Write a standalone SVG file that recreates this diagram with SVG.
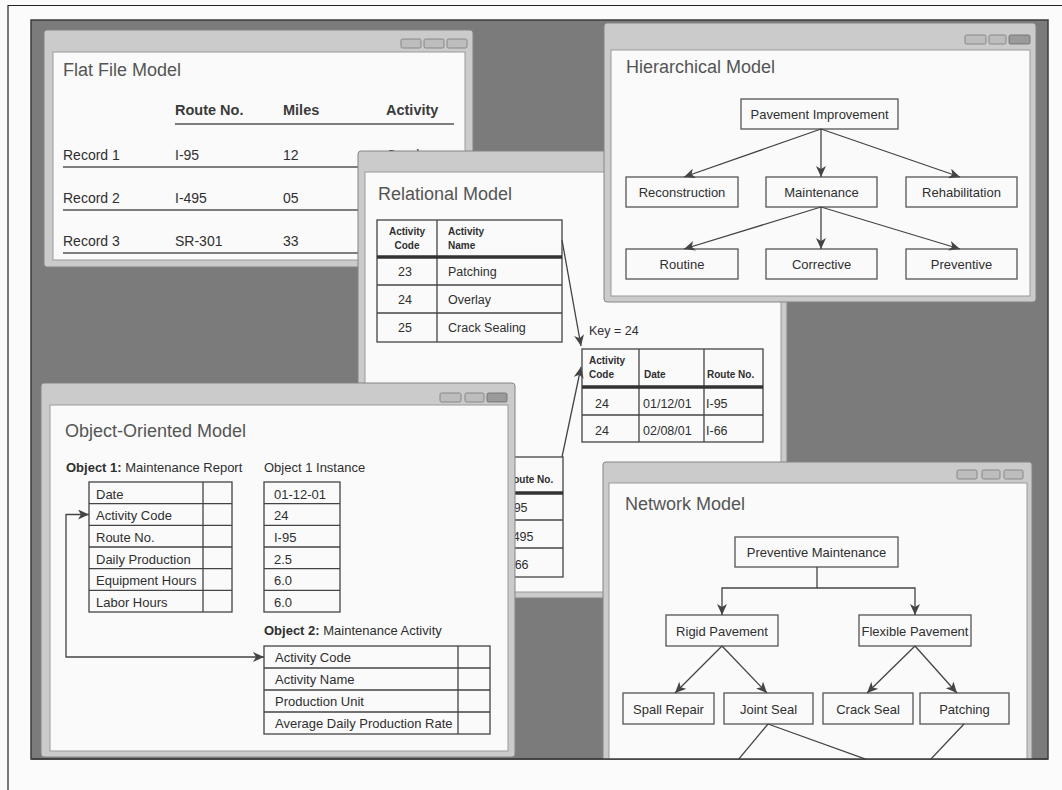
<svg xmlns="http://www.w3.org/2000/svg" width="1062" height="790" viewBox="0 0 1062 790">
<style>
text{font-family:"Liberation Sans",Arial,sans-serif;fill:#2f2f2f}
.ti{font-size:18px;fill:#555}
.b{font-size:14px}
.bh{font-size:14.5px;font-weight:bold;fill:#3a3a3a}
.n{font-size:13px;text-anchor:middle}
.r{font-size:12.5px}
.rh{font-size:10px;font-weight:bold}
.o{font-size:13px}
.frame{fill:#cbcbcb;stroke:#858585;stroke-width:1}
.inner{fill:#fafafa;stroke:#9a9a9a;stroke-width:1}
.btn{fill:#bdbdbd;stroke:#7a7a7a;stroke-width:0.8}
.btnx{fill:#9a9a9a;stroke:#6a6a6a;stroke-width:0.8}
.box{fill:#fafafa;stroke:#555;stroke-width:1.3}
.tb{fill:none;stroke:#444;stroke-width:1.3}
.thick{stroke:#333;stroke-width:3.5}
.ln{fill:none;stroke:#444;stroke-width:1.3}
.rule{stroke:#555;stroke-width:1.4}
</style>
<defs>
<marker id="arr" markerUnits="userSpaceOnUse" markerWidth="12" markerHeight="10" refX="11" refY="5" orient="auto-start-reverse">
<path d="M0,0 L11,5 L0,10 L3,5 z" fill="#444"/>
</marker>
<clipPath id="panelClip"><rect x="0" y="0" width="1062" height="759"/></clipPath>
</defs>

<g id="background">
<rect width="1062" height="790" fill="#fbfbfb"/>
<path d="M8 790 V5.5 H1062" fill="none" stroke="#222" stroke-width="1.2"/>
<rect x="31" y="20" width="1017" height="739" fill="#7b7b7b" stroke="#3c3c3c" stroke-width="1.5"/>
</g>

<g id="flat-file-model">
<rect class="frame" x="44" y="30" width="429" height="237" rx="3"/>
<rect class="inner" x="53" y="52" width="412" height="208"/>
<rect class="btn" x="401" y="39" width="20" height="9" rx="1.5"/>
<rect class="btn" x="424" y="39" width="20" height="9" rx="1.5"/>
<rect class="btn" x="447" y="39" width="20" height="9" rx="1.5"/>
<text class="ti" x="63" y="76">Flat File Model</text>
<text class="bh" x="175" y="115">Route No.</text>
<text class="bh" x="283" y="115">Miles</text>
<text class="bh" x="386" y="115">Activity</text>
<line class="rule" x1="175" y1="124" x2="454" y2="124"/>
<text class="b" x="63" y="160">Record 1</text>
<text class="b" x="175" y="160">I-95</text>
<text class="b" x="283" y="160">12</text>
<text class="b" x="386" y="160">Overlay</text>
<line class="rule" x1="63" y1="167" x2="454" y2="167"/>
<text class="b" x="63" y="203">Record 2</text>
<text class="b" x="175" y="203">I-495</text>
<text class="b" x="283" y="203">05</text>
<line class="rule" x1="63" y1="210" x2="454" y2="210"/>
<text class="b" x="63" y="246">Record 3</text>
<text class="b" x="175" y="246">SR-301</text>
<text class="b" x="283" y="246">33</text>
<line class="rule" x1="63" y1="253" x2="454" y2="253"/>
</g>

<g id="relational-model">
<rect class="frame" x="358" y="151" width="429" height="447" rx="3"/>
<rect class="inner" x="365" y="172" width="416" height="420"/>
<text class="ti" x="378" y="200">Relational Model</text>
<rect class="tb" x="377" y="220" width="185" height="122"/>
<line class="tb" x1="437" y1="220" x2="437" y2="342"/>
<line class="thick" x1="377" y1="257" x2="562" y2="257"/>
<line class="tb" x1="377" y1="285" x2="562" y2="285"/>
<line class="tb" x1="377" y1="313" x2="562" y2="313"/>
<text class="rh" x="407" y="235" text-anchor="middle">Activity</text>
<text class="rh" x="407" y="249" text-anchor="middle">Code</text>
<text class="rh" x="448" y="235">Activity</text>
<text class="rh" x="448" y="249">Name</text>
<text class="r" x="405" y="276" text-anchor="middle">23</text>
<text class="r" x="448" y="276">Patching</text>
<text class="r" x="405" y="304" text-anchor="middle">24</text>
<text class="r" x="448" y="304">Overlay</text>
<text class="r" x="405" y="332" text-anchor="middle">25</text>
<text class="r" x="448" y="332">Crack Sealing</text>
<text class="r" x="589" y="335">Key = 24</text>
<rect class="tb" x="582" y="349" width="181" height="93"/>
<line class="tb" x1="639" y1="349" x2="639" y2="442"/>
<line class="tb" x1="704" y1="349" x2="704" y2="442"/>
<line class="thick" x1="582" y1="387" x2="763" y2="387"/>
<line class="tb" x1="582" y1="415" x2="763" y2="415"/>
<text class="rh" x="589" y="364">Activity</text>
<text class="rh" x="589" y="378">Code</text>
<text class="rh" x="644" y="378">Date</text>
<text class="rh" x="707" y="378">Route No.</text>
<text class="r" x="595" y="408">24</text>
<text class="r" x="643" y="408">01/12/01</text>
<text class="r" x="706" y="408">I-95</text>
<text class="r" x="595" y="435">24</text>
<text class="r" x="643" y="435">02/08/01</text>
<text class="r" x="706" y="435">I-66</text>
<rect class="tb" x="440" y="457" width="123" height="120"/>
<line class="thick" x1="440" y1="493" x2="563" y2="493"/>
<line class="tb" x1="440" y1="520" x2="563" y2="520"/>
<line class="tb" x1="440" y1="548" x2="563" y2="548"/>
<text class="rh" x="506" y="483">Route No.</text>
<text class="r" x="506" y="512">I-95</text>
<text class="r" x="505" y="541">I-495</text>
<text class="r" x="507" y="569">I-66</text>
</g>

<g id="relational-connectors">
<line class="ln" x1="562" y1="240" x2="581" y2="346" marker-end="url(#arr)"/>
<line class="ln" x1="562" y1="457" x2="581" y2="367" marker-end="url(#arr)"/>
</g>

<g id="hierarchical-model">
<rect class="frame" x="604" y="23" width="432" height="279" rx="3"/>
<rect class="inner" x="611" y="50" width="419" height="246"/>
<rect class="btn" x="965" y="35" width="21" height="9" rx="1.5"/>
<rect class="btn" x="989" y="35" width="17" height="9" rx="1.5"/>
<rect class="btnx" x="1009" y="35" width="21" height="9" rx="1.5"/>
<text class="ti" x="626" y="73">Hierarchical Model</text>
<g id="h-pavement-improvement"><rect class="box" x="741" y="99" width="157" height="30"/><text class="n" x="819.5" y="119">Pavement Improvement</text></g>
<g id="h-reconstruction"><rect class="box" x="626" y="177" width="112" height="30"/><text class="n" x="682" y="197">Reconstruction</text></g>
<g id="h-maintenance"><rect class="box" x="766" y="177" width="111" height="30"/><text class="n" x="821.5" y="197">Maintenance</text></g>
<g id="h-rehabilitation"><rect class="box" x="906" y="177" width="111" height="30"/><text class="n" x="961.5" y="197">Rehabilitation</text></g>
<g id="h-routine"><rect class="box" x="626" y="249" width="112" height="30"/><text class="n" x="682" y="269">Routine</text></g>
<g id="h-corrective"><rect class="box" x="766" y="249" width="111" height="30"/><text class="n" x="821.5" y="269">Corrective</text></g>
<g id="h-preventive"><rect class="box" x="906" y="249" width="111" height="30"/><text class="n" x="961.5" y="269">Preventive</text></g>
<g id="hierarchical-connectors">
<line class="ln" x1="821" y1="129" x2="684" y2="177" marker-end="url(#arr)"/>
<line class="ln" x1="821" y1="129" x2="821" y2="177" marker-end="url(#arr)"/>
<line class="ln" x1="821" y1="129" x2="960" y2="177" marker-end="url(#arr)"/>
<line class="ln" x1="821" y1="207" x2="684" y2="249" marker-end="url(#arr)"/>
<line class="ln" x1="821" y1="207" x2="821" y2="249" marker-end="url(#arr)"/>
<line class="ln" x1="821" y1="207" x2="960" y2="249" marker-end="url(#arr)"/>
</g>
</g>

<g id="object-oriented-model">
<rect class="frame" x="41" y="383" width="474" height="374" rx="3"/>
<rect class="inner" x="50" y="405" width="458" height="346"/>
<rect class="btn" x="440" y="393" width="21" height="9" rx="1.5"/>
<rect class="btn" x="465" y="393" width="19" height="9" rx="1.5"/>
<rect class="btnx" x="487" y="393" width="20" height="9" rx="1.5"/>
<text class="ti" x="65" y="437">Object-Oriented Model</text>
<text class="o" x="66" y="472"><tspan font-weight="bold">Object 1:</tspan> Maintenance Report</text>
<text class="o" x="264" y="472">Object 1 Instance</text>
<rect class="tb" x="89" y="482" width="143" height="130"/>
<line class="tb" x1="203" y1="482" x2="203" y2="612"/>
<rect class="tb" x="264" y="482" width="76" height="130"/>
<path class="tb" d="M89 503.7H232M89 525.3H232M89 547H232M89 568.7H232M89 590.3H232M264 503.7H340M264 525.3H340M264 547H340M264 568.7H340M264 590.3H340"/>
<text class="o" x="96" y="498.5">Date</text>
<text class="o" x="96" y="520">Activity Code</text>
<text class="o" x="96" y="542">Route No.</text>
<text class="o" x="96" y="563.5">Daily Production</text>
<text class="o" x="96" y="585">Equipment Hours</text>
<text class="o" x="96" y="607">Labor Hours</text>
<text class="o" x="274" y="498.5">01-12-01</text>
<text class="o" x="274" y="520">24</text>
<text class="o" x="274" y="542">I-95</text>
<text class="o" x="274" y="563.5">2.5</text>
<text class="o" x="274" y="585">6.0</text>
<text class="o" x="274" y="607">6.0</text>
<text class="o" x="264" y="635"><tspan font-weight="bold">Object 2:</tspan> Maintenance Activity</text>
<rect class="tb" x="264" y="646" width="226" height="88"/>
<line class="tb" x1="458" y1="646" x2="458" y2="734"/>
<path class="tb" d="M264 668H490M264 690H490M264 712H490"/>
<text class="o" x="275" y="662">Activity Code</text>
<text class="o" x="275" y="684">Activity Name</text>
<text class="o" x="275" y="706">Production Unit</text>
<text class="o" x="275" y="728">Average Daily Production Rate</text>
<g id="object-connectors">
<path class="ln" d="M89 514.5 H66 V657 H264" marker-start="url(#arr)" marker-end="url(#arr)"/>
</g>
</g>

<g id="network-model" clip-path="url(#panelClip)">
<rect class="frame" x="603" y="462" width="429" height="310" rx="3"/>
<rect class="inner" x="609" y="483" width="418" height="290"/>
<rect class="btn" x="957" y="470" width="20" height="9" rx="1.5"/>
<rect class="btn" x="982" y="470" width="18" height="9" rx="1.5"/>
<rect class="btn" x="1004" y="470" width="19" height="9" rx="1.5"/>
<text class="ti" x="625" y="510">Network Model</text>
<g id="n-preventive-maintenance"><rect class="box" x="735" y="537" width="163" height="30"/><text class="n" x="816.5" y="557">Preventive Maintenance</text></g>
<g id="n-rigid-pavement"><rect class="box" x="666" y="615" width="112" height="31"/><text class="n" x="722" y="636">Rigid Pavement</text></g>
<g id="n-flexible-pavement"><rect class="box" x="859" y="615" width="112" height="31"/><text class="n" x="915" y="636">Flexible Pavement</text></g>
<g id="n-spall-repair"><rect class="box" x="623" y="693" width="91" height="31"/><text class="n" x="668.5" y="714">Spall Repair</text></g>
<g id="n-joint-seal"><rect class="box" x="724" y="693" width="89" height="31"/><text class="n" x="768.5" y="714">Joint Seal</text></g>
<g id="n-crack-seal"><rect class="box" x="823" y="693" width="90" height="31"/><text class="n" x="868" y="714">Crack Seal</text></g>
<g id="n-patching"><rect class="box" x="920" y="693" width="89" height="31"/><text class="n" x="964.5" y="714">Patching</text></g>
<g id="network-connectors">
<path class="ln" d="M817 567 V588 H722 V615" marker-end="url(#arr)"/>
<path class="ln" d="M817 588 H915 V615" marker-end="url(#arr)"/>
<line class="ln" x1="722" y1="646" x2="675" y2="693" marker-end="url(#arr)"/>
<line class="ln" x1="722" y1="646" x2="767" y2="693" marker-end="url(#arr)"/>
<line class="ln" x1="915" y1="646" x2="867" y2="693" marker-end="url(#arr)"/>
<line class="ln" x1="915" y1="646" x2="957" y2="693" marker-end="url(#arr)"/>
<line class="ln" x1="768" y1="724" x2="738" y2="760"/>
<line class="ln" x1="768" y1="724" x2="868" y2="760"/>
<line class="ln" x1="964" y1="724" x2="930" y2="760"/>
</g>
</g>

<line id="panel-edge" x1="31" y1="759" x2="1048" y2="759" stroke="#3c3c3c" stroke-width="1.5"/>
</svg>
